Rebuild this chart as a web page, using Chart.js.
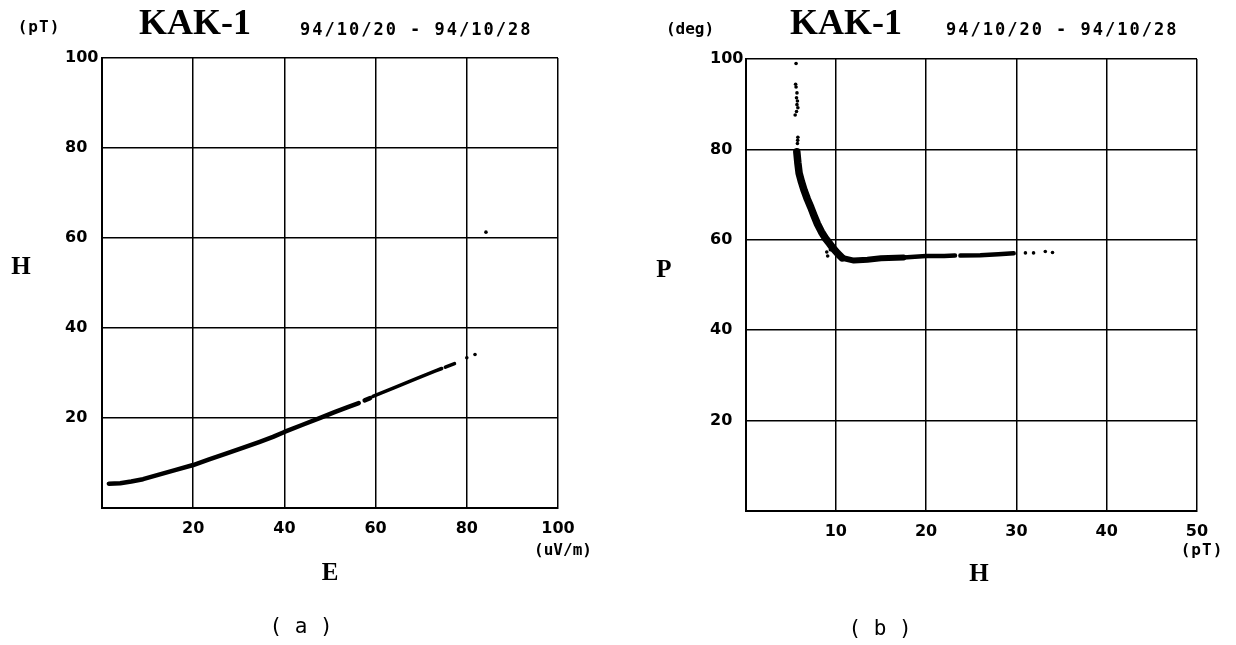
<!DOCTYPE html>
<html>
<head>
<meta charset="utf-8">
<script src="https://cdn.jsdelivr.net/npm/chart.js@4/dist/chart.umd.min.js"></script>
<style>
  body { margin: 0; background: #fff; }
  #wrap { position: relative; width: 1236px; height: 645px; }
  canvas { position: absolute; top: 0; }
  #chartA { left: 0; }
  #chartB { left: 618px; }
</style>
</head>
<body>
<div id="wrap">
  <canvas id="chartA" width="618" height="645"></canvas>
  <canvas id="chartB" width="618" height="645"></canvas>
</div>
<script>
// ---- (a) H vs E ----
const xTicksA = [0, 20, 40, 60, 80, 100];
const yTicksA = [0, 20, 40, 60, 80, 100];
// main curve, thick lower part (null = gap in the trace)
const eLow = [1.5, 4, 6.4, 9, 12.3, 16, 20, 23.5, 27.2, 31, 34.6, 37.5, 40, 44, 48, 51, 53.9, 56.3, null, 57.6, 58.8];
const hLow = [5.4, 5.5, 5.9, 6.4, 7.35, 8.4, 9.55, 10.8, 12.1, 13.4, 14.7, 15.8, 16.9, 18.5, 20.1, 21.3, 22.4, 23.3, null, 23.9, 24.4];
// thinner, broken upper part
const eUp = [59.4, 64, 68.8, 73, 74.5, null, 75.3, 77.3];
const hUp = [24.8, 26.7, 28.7, 30.4, 31.0, null, 31.3, 32.1];
// loose dots
const eDots = [80, 81.8, 84.2];
const hDots = [33.4, 34.1, 61.3];

// ---- (b) P vs H ----
const xTicksB = [0, 10, 20, 30, 40, 50];
const yTicksB = [0, 20, 40, 60, 80, 100];
const hDrop = [5.68, 5.8, 5.94, 6.2, 6.5, 6.85, 7.23, 7.6, 7.97, 8.4, 8.9, 9.3, 9.63, 10.2, 10.7];
const pDrop = [79.5, 77, 74.7, 72.8, 70.9, 69, 67.2, 65.3, 63.5, 61.8, 60.2, 59.2, 58.3, 57.0, 56.0];
const hFlat1 = [10.7, 12.0, 13.5, 15, 17.5];
const pFlat1 = [56.0, 55.4, 55.6, 55.9, 56.1];
const hFlat2 = [17.5, 20, 22, 23.2, null, 23.8, 26, 28, 29.7];
const pFlat2 = [56.1, 56.4, 56.4, 56.5, null, 56.5, 56.6, 56.8, 57.0];
const hDotsB = [5.6, 5.55, 5.6, 5.7, 5.65, 5.75, 5.7, 5.8, 5.65, 5.5, 5.8, 5.78, 5.75, 9.0, 9.1, 9.4, 10.2, 31.0, 31.9, 33.2, 34.0];
const pDotsB = [99.0, 94.4, 93.8, 92.5, 91.4, 90.7, 89.9, 89.2, 88.4, 87.6, 82.7, 82.0, 81.3, 57.3, 56.4, 57.8, 57.5, 57.1, 57.1, 57.4, 57.2];

function pairs(xs, ys) {
  return xs.map((x, i) => (x === null ? { x: NaN, y: NaN } : { x: x, y: ys[i] }));
}

function lineSet(xs, ys, width) {
  return {
    data: pairs(xs, ys),
    showLine: true,
    spanGaps: false,
    borderColor: "#000",
    borderWidth: width,
    borderCapStyle: "round",
    borderJoinStyle: "round",
    pointRadius: 0
  };
}

function dotSet(xs, ys, r) {
  return {
    data: pairs(xs, ys),
    showLine: false,
    pointRadius: r,
    pointBorderWidth: 0,
    backgroundColor: "#000"
  };
}

const tickFont = { family: "DejaVu Sans", weight: "bold", size: 16 };

// free text around the plot
const textPlugin = {
  id: "pageText",
  afterDraw(chart) {
    const items = chart.options.plugins.pageText.items;
    const ctx = chart.ctx;
    items.forEach(t => {
      ctx.save();
      ctx.font = t.font;
      ctx.fillStyle = "#000";
      ctx.textAlign = t.align || "center";
      ctx.textBaseline = "middle";
      ctx.letterSpacing = t.spacing || "0px";
      ctx.fillText(t.text, t.x, t.y);
      ctx.restore();
    });
  }
};

function buildScales(xTicks, yTicks, yAxisW) {
  const grid = { color: "#000", lineWidth: 1.5, drawTicks: false };
  const border = { color: "#000", width: 2 };
  return {
    x: {
      type: "linear",
      min: xTicks[0],
      max: xTicks[xTicks.length - 1],
      grid: grid,
      border: border,
      afterFit(scale) { scale.height = 40; },
      afterBuildTicks(scale) { scale.ticks = xTicks.map(v => ({ value: v })); },
      ticks: {
        color: "#000",
        font: tickFont,
        padding: 11,
        maxRotation: 0,
        callback: v => (v === 0 ? "" : String(v))
      }
    },
    y: {
      type: "linear",
      min: yTicks[0],
      max: yTicks[yTicks.length - 1],
      grid: grid,
      border: border,
      afterFit(scale) { scale.width = yAxisW; },
      afterBuildTicks(scale) { scale.ticks = yTicks.map(v => ({ value: v })); },
      ticks: {
        color: "#000",
        font: tickFont,
        crossAlign: "far",
        callback: v => (v === 0 ? "" : String(v))
      }
    }
  };
}

const monoBold = size => "bold " + size + "px 'DejaVu Sans Mono'";
const serif = size => "bold " + size + "px 'Liberation Serif'";

new Chart(document.getElementById("chartA"), {
  type: "scatter",
  data: {
    datasets: [
      lineSet(eLow, hLow, 4.5),
      lineSet(eUp, hUp, 3.5),
      dotSet(eDots, hDots, 1.8)
    ]
  },
  options: {
    responsive: false,
    animation: false,
    layout: { padding: { left: 65, right: 60, top: 58, bottom: 97 } },
    scales: buildScales(xTicksA, yTicksA, 37),
    plugins: {
      legend: { display: false },
      tooltip: { enabled: false },
      pageText: {
        items: [
          { text: "(pT)", x: 39, y: 28, font: monoBold(16), spacing: "1px" },
          { text: "KAK-1", x: 195, y: 25, font: serif(36) },
          { text: "94/10/20 - 94/10/28", x: 300, y: 31, align: "left", font: monoBold(17), spacing: "2px" },
          { text: "H", x: 21, y: 268, font: serif(25) },
          { text: "E", x: 330, y: 574, font: serif(25) },
          { text: "(uV/m)", x: 563, y: 551, font: monoBold(16) },
          { text: "( a )", x: 301, y: 628, font: "21px 'DejaVu Sans Mono'" }
        ]
      }
    }
  },
  plugins: [textPlugin]
});

new Chart(document.getElementById("chartB"), {
  type: "scatter",
  data: {
    datasets: [
      lineSet(hDrop, pDrop, 7.5),
      lineSet(hFlat1, pFlat1, 6),
      lineSet(hFlat2, pFlat2, 4.5),
      dotSet(hDotsB, pDotsB, 1.8)
    ]
  },
  options: {
    responsive: false,
    animation: false,
    layout: { padding: { left: 92, right: 39, top: 59, bottom: 94 } },
    scales: buildScales(xTicksB, yTicksB, 35.5),
    plugins: {
      legend: { display: false },
      tooltip: { enabled: false },
      pageText: {
        items: [
          { text: "(deg)", x: 72, y: 30, font: monoBold(16) },
          { text: "KAK-1", x: 228, y: 25, font: serif(36) },
          { text: "94/10/20 - 94/10/28", x: 328, y: 31, align: "left", font: monoBold(17), spacing: "2px" },
          { text: "P", x: 46, y: 271, font: serif(25) },
          { text: "H", x: 361, y: 575, font: serif(25) },
          { text: "(pT)", x: 584, y: 551, font: monoBold(16), spacing: "1px" },
          { text: "( b )", x: 262, y: 630, font: "21px 'DejaVu Sans Mono'" }
        ]
      }
    }
  },
  plugins: [textPlugin]
});
</script>
</body>
</html>
